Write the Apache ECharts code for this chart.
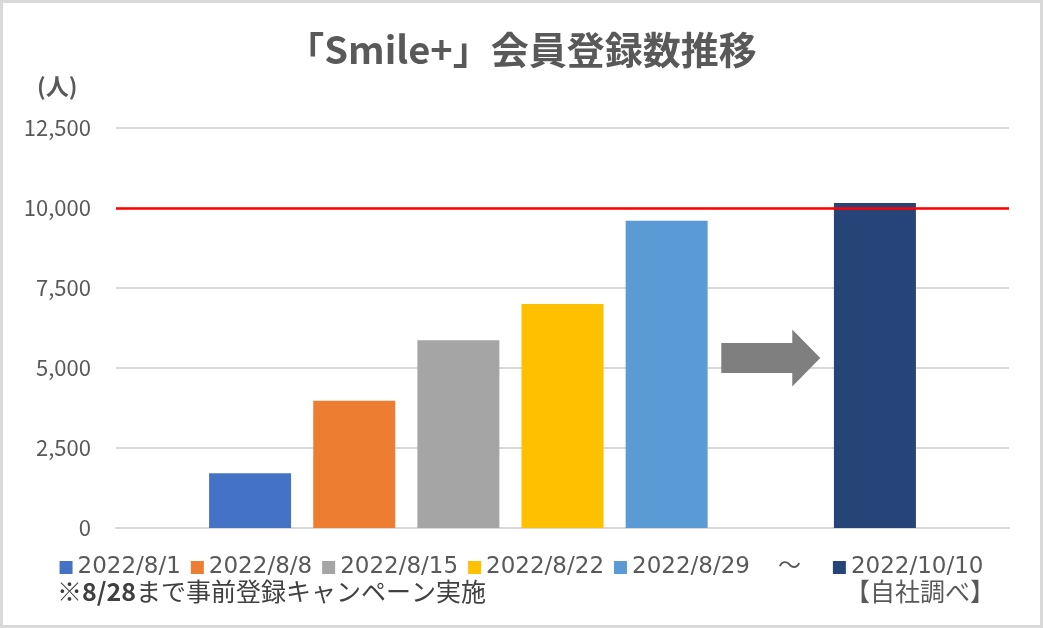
<!DOCTYPE html>
<html>
<head>
<meta charset="utf-8">
<title>「Smile+」会員登録数推移</title>
<script src="https://cdn.jsdelivr.net/npm/echarts@6/dist/echarts.min.js"></script>
<style>
  html, body { margin: 0; padding: 0; background: #fff; }
  #chart { width: 1043px; height: 628px; }
</style>
</head>
<body>
<div id="chart"></div>
<script>
// データ
var categories = ["会員登録数"];
var seriesNames = ["2022/8/1", "2022/8/8", "2022/8/15", "2022/8/22", "2022/8/29", "～", "2022/10/10"];
var seriesValues = [1710, 3980, 5870, 7000, 9600, null, 10160];
var seriesColors = ["#4472C4", "#ED7D31", "#A5A5A5", "#FFC000", "#5B9BD5", "rgba(0,0,0,0)", "#264478"];
var yTicks = [0, 2500, 5000, 7500, 10000, 12500];
var targetLine = 10000;   // 赤線
var arrowLevel = 5310;    // 矢印の高さ

var FONT = "'Noto Sans CJK JP', 'Noto Sans', sans-serif";
var LEGEND_FONT = "'DejaVu Sans', 'Noto Sans CJK JP', sans-serif";
var myChart = null;

window.onload = function () {
  myChart = echarts.init(document.getElementById("chart"));
  drawChart();
};

function drawChart() {
  var series = seriesNames.map(function (name, i) {
    var s = {
      name: name,
      type: "bar",
      barWidth: 82,
      barGap: "27%",
      itemStyle: { color: seriesColors[i] },
      data: [seriesValues[i]],
    };
    if (i === 0) {
      s.markLine = {
        silent: true,
        symbol: "none",
        label: { show: false },
        lineStyle: { color: "#FF0000", width: 2.5, type: "solid" },
        data: [{ yAxis: targetLine }],
      };
    }
    if (name === "～") {
      // 矢印
      s.markPoint = {
        silent: true,
        symbol: "path://M0,13.5 L71,13.5 L71,0 L99,28.5 L71,57 L71,43.5 L0,43.5 Z",
        symbolSize: [99, 57],
        itemStyle: { color: "#7F7F7F" },
        label: { show: false },
        data: [{ coord: [categories[0], arrowLevel], symbolSize: [99, 57] }],
      };
    }
    return s;
  });

  myChart.setOption({
    animation: false,
    textStyle: { fontFamily: FONT },
    title: {
      text: "「Smile+」会員登録数推移",
      left: "center",
      top: 26,
      textStyle: {
        fontFamily: FONT,
        fontSize: 38,
        fontWeight: "bold",
        color: "#595959",
      },
    },
    legend: {
      bottom: 44,
      left: "center",
      itemWidth: 13,
      itemHeight: 13,
      itemGap: 10,
      icon: "rect",
      data: seriesNames,
      formatter: function (name) {
        return name === "～" ? "～   " : name;
      },
      textStyle: { fontFamily: LEGEND_FONT, fontSize: 23, color: "#595959" },
    },
    grid: {
      left: 116,
      right: 34,
      top: 128,
      bottom: 100,
    },
    xAxis: {
      type: "category",
      data: categories,
      axisLine: { lineStyle: { color: "#D9D9D9", width: 2 } },
      axisTick: { show: false },
      axisLabel: { show: false },
    },
    yAxis: {
      type: "value",
      min: yTicks[0],
      max: yTicks[yTicks.length - 1],
      interval: yTicks[1] - yTicks[0],
      axisLine: { show: false },
      axisTick: { show: false },
      axisLabel: {
        margin: 25,
        fontFamily: FONT,
        fontSize: 22,
        color: "#595959",
      },
      splitLine: { lineStyle: { color: "#D9D9D9", width: 2 } },
    },
    graphic: [
      {
        type: "rect",
        silent: true,
        shape: { x: 1.5, y: 1.5, width: 1040, height: 625 },
        style: { fill: "none", stroke: "#D9D9D9", lineWidth: 3 },
      },
      {
        type: "text",
        left: 37,
        top: 75,
        style: {
          text: "(人)",
          font: "bold 23px " + FONT,
          fill: "#595959",
        },
      },
      {
        type: "text",
        left: 57,
        top: 579,
        style: {
          text: "{n|※}{b|8/28}{n|まで事前登録キャンペーン実施}",
          rich: {
            n: { fontFamily: FONT, fontSize: 25, fill: "#404040" },
            b: { fontFamily: FONT, fontSize: 25, fontWeight: "bold", fill: "#404040" },
          },
        },
      },
      {
        type: "text",
        right: 48,
        top: 579,
        style: {
          text: "【自社調べ】",
          font: "25px " + FONT,
          fill: "#595959",
        },
      },
    ],
    series: series,
  });
}
</script>
</body>
</html>
